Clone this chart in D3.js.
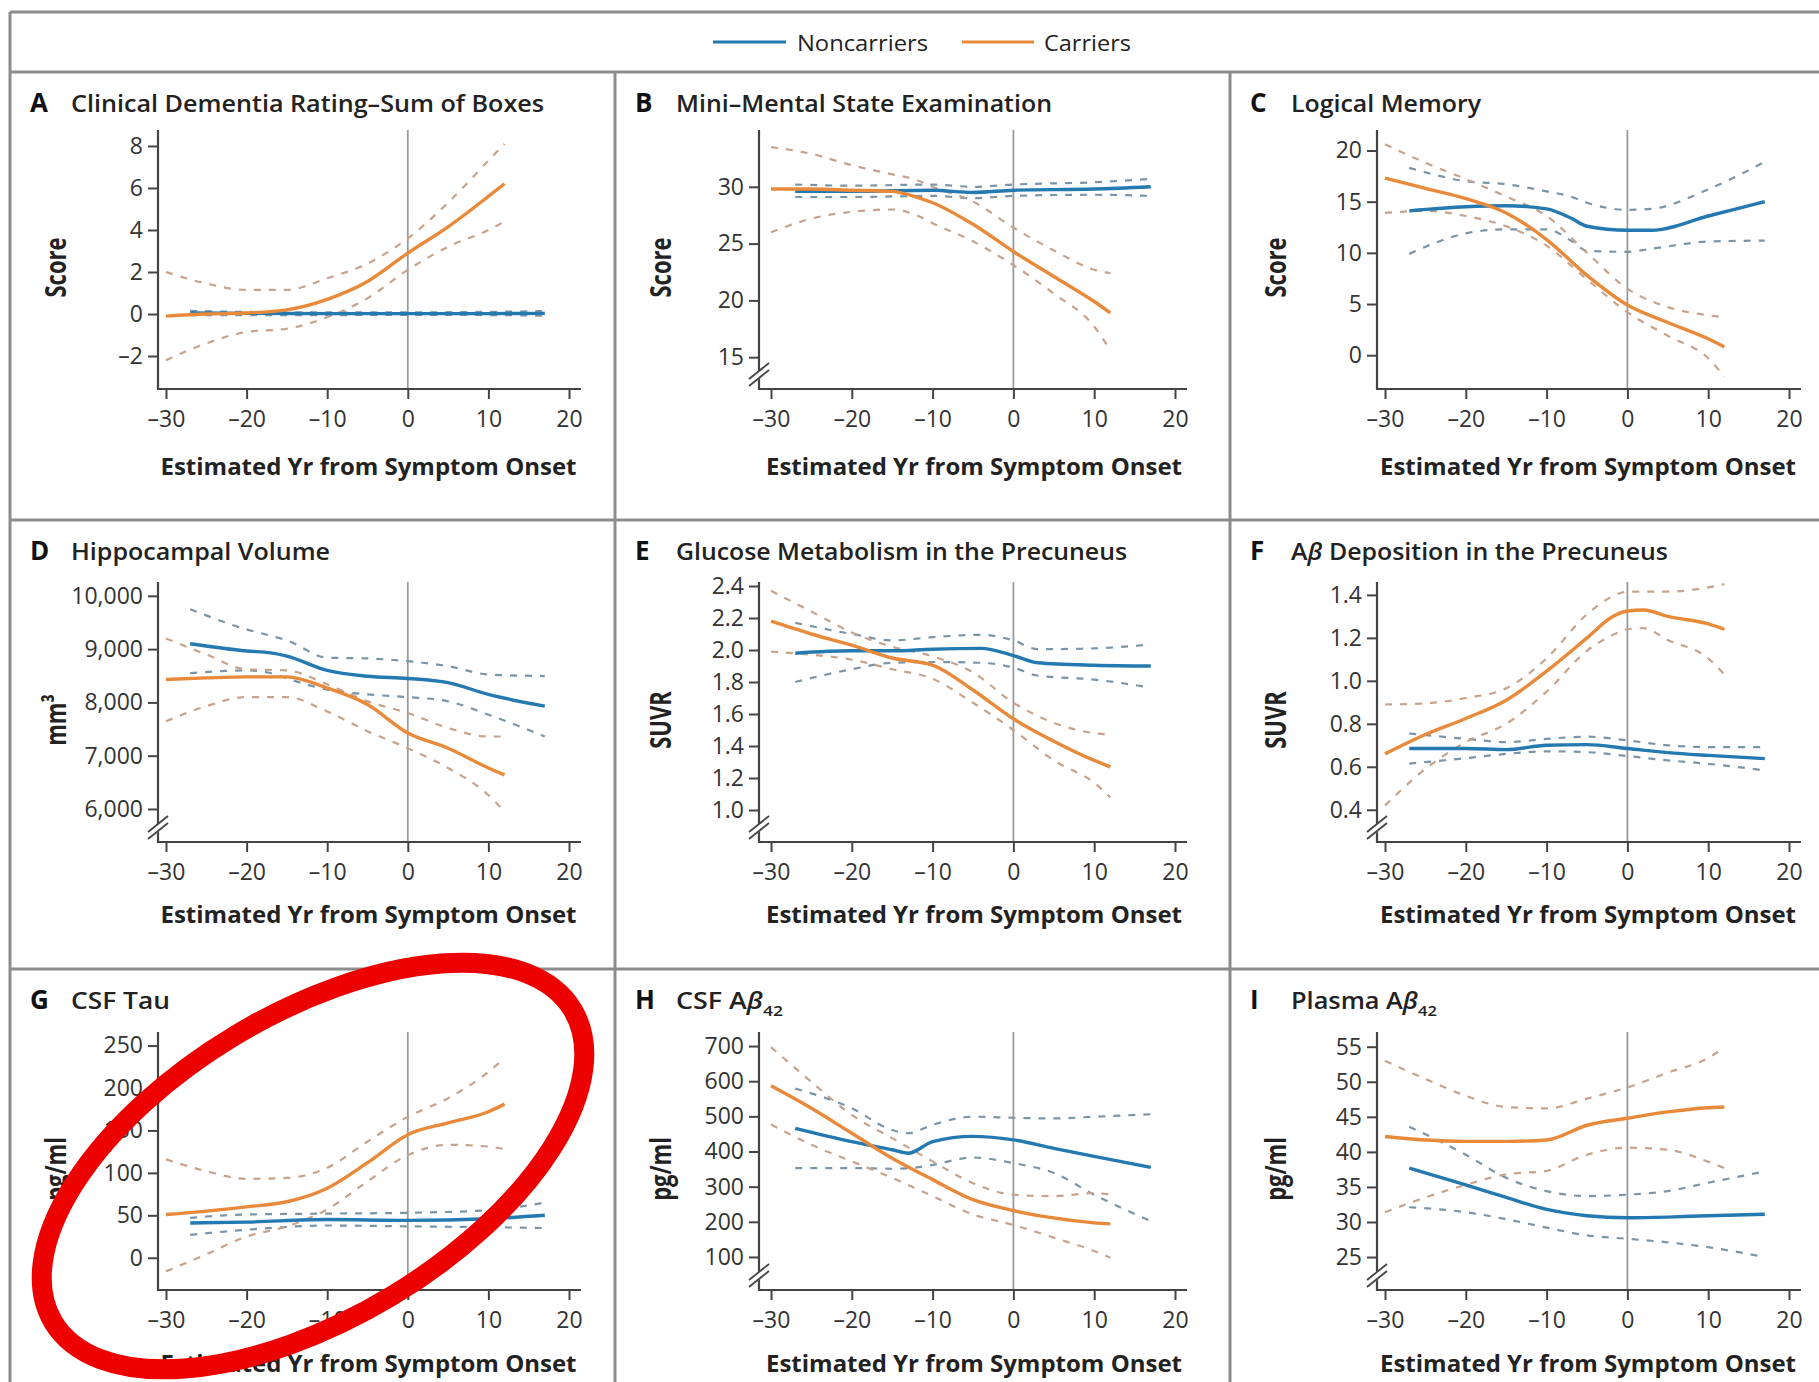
<!DOCTYPE html>
<html>
<head>
<meta charset="utf-8">
<script src="https://cdn.jsdelivr.net/npm/d3@7"></script>
<style>
  body { margin: 0; background: #fff; }
  svg text { font-family: "Open Sans", Lato, sans-serif; }
</style>
</head>
<body>
<svg id="chart"></svg>
<script>
var W = 1819, H = 1382;

// rows are [yr from onset, mean, lower CI, upper CI]
var xTicks = [-30, -20, -10, 0, 10, 20];

var cdrCarriers = [[-30,-0.1,-2.2,2.0],[-25,0.0,-1.4,1.45],[-20,0.05,-0.85,1.15],[-15,0.2,-0.7,1.15],[-10,0.7,-0.15,1.7],[-5,1.55,0.75,2.4],[0,2.9,2.1,3.6],[5,4.15,3.2,5.3],[10,5.6,4.0,7.3],[12,6.2,4.4,8.1]];
var cdrNon = [[-27,0.05,-0.05,0.15],[-20,0.03,-0.05,0.1],[-10,0.02,-0.05,0.08],[0,0.02,-0.04,0.08],[10,0.02,-0.05,0.1],[17,0.03,-0.08,0.14]];

var mmseCarriers = [[-30,29.8,26.0,33.5],[-25,29.8,27.2,32.9],[-20,29.7,27.8,31.9],[-15,29.6,28.0,31.1],[-12,29.1,27.5,30.6],[-10,28.6,26.8,30.0],[-5,26.7,25.2,28.7],[0,24.3,23.1,26.4],[5,22.1,20.6,24.4],[10,19.9,17.7,22.7],[12,18.9,15.6,22.4]];
var mmseNon = [[-27,29.6,29.1,30.2],[-20,29.6,29.1,30.1],[-10,29.7,29.2,30.2],[-5,29.5,29.0,30.0],[0,29.7,29.2,30.2],[10,29.8,29.3,30.4],[17,30.0,29.2,30.7]];

var memCarriers = [[-30,17.3,13.9,20.6],[-25,16.3,14.1,18.8],[-20,15.3,13.6,17.2],[-15,13.9,12.6,15.5],[-10,11.3,10.7,13.6],[-5,7.8,7.4,10.0],[0,4.9,4.2,6.5],[5,3.2,1.9,4.7],[10,1.6,-0.3,3.9],[12,0.8,-2.1,3.7]];
var memNon = [[-27,14.1,9.9,18.3],[-20,14.5,11.9,17.0],[-15,14.6,12.3,16.7],[-10,14.3,12.3,16.0],[-7,13.4,11.2,15.5],[-5,12.6,10.2,14.9],[0,12.2,10.1,14.2],[3,12.2,10.4,14.3],[10,13.6,11.1,16.2],[17,15.0,11.2,18.9]];

var hippoCarriers = [[-30,8430,7645,9200],[-25,8460,7930,8900],[-20,8480,8100,8620],[-15,8480,8100,8600],[-10,8270,7830,8340],[-5,7960,7460,8020],[0,7425,7140,7800],[5,7140,6770,7520],[10,6770,6260,7360],[12,6640,5950,7360]];
var hippoNon = [[-27,9100,8550,9750],[-20,8965,8600,9370],[-17,8930,8550,9250],[-15,8870,8450,9165],[-10,8600,8240,8840],[-5,8490,8150,8825],[0,8450,8100,8775],[5,8370,8020,8680],[10,8150,7770,8525],[17,7930,7360,8495]];

var fdgCarriers = [[-30,2.18,1.99,2.37],[-25,2.10,1.97,2.24],[-20,2.03,1.94,2.11],[-15,1.95,1.88,2.02],[-10,1.905,1.82,1.96],[-5,1.75,1.67,1.86],[0,1.57,1.50,1.67],[5,1.43,1.31,1.545],[10,1.31,1.17,1.48],[12,1.27,1.08,1.47]];
var fdgNon = [[-27,1.98,1.80,2.17],[-20,1.995,1.88,2.10],[-15,1.995,1.92,2.06],[-10,2.005,1.925,2.08],[-4,2.01,1.92,2.095],[0,1.965,1.89,2.06],[3,1.92,1.84,2.005],[10,1.905,1.815,2.01],[17,1.90,1.765,2.035]];

var pibCarriers = [[-30,0.66,0.42,0.89],[-25,0.75,0.59,0.895],[-20,0.825,0.715,0.92],[-15,0.91,0.80,0.965],[-10,1.045,0.95,1.105],[-5,1.20,1.14,1.31],[-2,1.295,1.21,1.39],[0,1.325,1.24,1.415],[2,1.33,1.245,1.415],[5,1.30,1.19,1.415],[10,1.265,1.105,1.435],[12,1.24,1.03,1.45]];
var pibNon = [[-27,0.685,0.615,0.755],[-20,0.685,0.64,0.73],[-15,0.68,0.66,0.715],[-10,0.70,0.672,0.73],[-5,0.703,0.668,0.74],[0,0.685,0.65,0.723],[5,0.666,0.63,0.70],[10,0.653,0.614,0.692],[17,0.638,0.583,0.692]];

var tauCarriers = [[-30,51,-16,116],[-25,55,4,102],[-20,60,25,93],[-15,66,37,94],[-10,82,57,106],[-5,112,90,137],[0,145,121,166],[5,159,133,188],[10,172,131,219],[12,181,128,235]];
var tauNon = [[-27,41,27,47],[-20,42,33,51],[-10,45,38,52],[0,44,37,53],[10,46,36,56],[17,50,35,65]];

var csfAbCarriers = [[-30,587,477,697],[-25,523,419,598],[-20,452,372,504],[-15,381,325,438],[-10,320,273,372],[-5,263,221,310],[0,232,191,277],[5,211,155,273],[10,197,117,282],[12,194,98,277]];
var csfAbNon = [[-27,466,353,579],[-20,428,353,523],[-15,405,351,461],[-13,395,352,452],[-10,428,362,476],[-5,443,383,499],[0,433,367,496],[5,409,339,494],[10,386,277,499],[17,355,202,506]];

var plasmaCarriers = [[-30,42.2,31.4,53.0],[-25,41.7,33.5,50.4],[-20,41.5,35.3,48.0],[-15,41.5,36.8,46.4],[-10,41.7,37.3,46.2],[-5,43.8,39.6,47.6],[0,44.8,40.6,49.2],[5,45.7,40.3,51.3],[10,46.3,38.6,53.4],[12,46.4,37.7,54.9]];
var plasmaNon = [[-27,37.7,32.1,43.6],[-20,35.3,31.4,39.6],[-15,33.5,30.4,36.3],[-10,31.8,29.2,34.4],[-5,30.9,28.1,33.7],[0,30.6,27.6,33.9],[5,30.7,27.1,34.4],[10,30.9,26.4,35.6],[17,31.1,25.0,37.2]];

var letters = ['A','B','C','D','E','F','G','H','I'];
var titles = ['Clinical Dementia Rating\u2013Sum of Boxes', 'Mini\u2013Mental State Examination', 'Logical Memory',
  'Hippocampal Volume', 'Glucose Metabolism in the Precuneus', 'A\u03b2 Deposition in the Precuneus',
  'CSF Tau', 'CSF A\u03b242', 'Plasma A\u03b242'];
var titleWidths = [473, 376, 190, 259, 451, 377, 99, 107, 146];
var yLabels = ['Score','Score','Score','mm\u00b3','SUVR','SUVR','pg/ml','pg/ml','pg/ml'];
var yTicks = [[-2,0,2,4,6,8],[15,20,25,30],[0,5,10,15,20],
  [6000,7000,8000,9000,10000],[1.0,1.2,1.4,1.6,1.8,2.0,2.2,2.4],[0.4,0.6,0.8,1.0,1.2,1.4],
  [0,50,100,150,200,250],[100,200,300,400,500,600,700],[25,30,35,40,45,50,55]];
var yDomains = [[-3.57,8.76],[12.2,35],[-3.3,22],[5380,10260],[0.8,2.425],[0.25,1.46],[-38,266],[6,740],[20.3,57.1]];
var axisBreak = [false,true,false,true,true,true,false,true,true];
var carriers = [cdrCarriers, mmseCarriers, memCarriers, hippoCarriers, fdgCarriers, pibCarriers, tauCarriers, csfAbCarriers, plasmaCarriers];
var noncarriers = [cdrNon, mmseNon, memNon, hippoNon, fdgNon, pibNon, tauNon, csfAbNon, plasmaNon];

var blue = '#2479b0', orange = '#e9893a';
var blueCI = '#7b95a6', orangeCI = '#c6a38c';
var frame = '#8c8c8c';

// layout
var colLeft = [10, 615, 1230], colAxis = [158, 759, 1377];
var colX0 = [166, 771, 1385], colX1 = [569, 1175, 1789];
var rowTop = [72, 520, 969], rowPlotTop = [130, 582, 1032], rowAxis = [389, 842, 1290];

var svg = d3.select('#chart').attr('width', W).attr('height', H);
svg.append('rect').attr('width', W).attr('height', H).attr('fill', '#fff');

// frame and dividers
var fr = svg.append('g').attr('stroke', frame).attr('stroke-width', 3);
fr.append('line').attr('x1', 10).attr('x2', W).attr('y1', 12).attr('y2', 12);
fr.append('line').attr('x1', 10).attr('x2', 10).attr('y1', 12).attr('y2', H);
rowTop.forEach(function(t){
  fr.append('line').attr('x1', 10).attr('x2', W).attr('y1', t).attr('y2', t);
});
[615, 1230].forEach(function(cx){
  fr.append('line').attr('x1', cx).attr('x2', cx).attr('y1', 72).attr('y2', H);
});

// legend
var leg = svg.append('g');
[[713, 786, blue, 'Noncarriers', 797, 131], [962, 1034, orange, 'Carriers', 1044, 87]].forEach(function(l){
  leg.append('line').attr('x1', l[0]).attr('x2', l[1]).attr('y1', 42).attr('y2', 42)
    .attr('stroke', l[2]).attr('stroke-width', 3);
  leg.append('text').attr('x', l[4]).attr('y', 51).attr('font-size', 22).attr('fill', '#222')
    .attr('textLength', l[5]).attr('lengthAdjust', 'spacingAndGlyphs').text(l[3]);
});

function tickFmt(i){
  if (i === 3) return d3.format(',');
  if (i === 4 || i === 5) return d3.format('.1f');
  return function(v){ return v < 0 ? '\u2013' + Math.abs(v) : String(v); };
}

letters.forEach(function(letter, i){
  var c = i % 3, r = Math.floor(i / 3);
  var g = svg.append('g').attr('class', 'panel');
  var x = d3.scaleLinear().domain([-30, 20]).range([colX0[c], colX1[c]]);
  var y = d3.scaleLinear().domain(yDomains[i]).range([rowAxis[r], rowPlotTop[r]]);
  var ax = colAxis[c], top = rowPlotTop[r], bot = rowAxis[r];

  // panel letter and title
  g.append('text').attr('x', colLeft[c] + 20).attr('y', rowTop[r] + 40)
    .attr('font-size', 26).attr('font-weight', 700).attr('fill', '#111').text(letter);
  var tt = g.append('text').attr('x', colLeft[c] + 61).attr('y', rowTop[r] + 40)
    .attr('font-size', 23).attr('font-weight', 600).attr('fill', '#222')
    .attr('textLength', titleWidths[i]).attr('lengthAdjust', 'spacingAndGlyphs');
  var title = titles[i], k = title.indexOf('\u03b2');
  if (k < 0) {
    tt.text(title);
  } else {
    tt.append('tspan').text(title.slice(0, k));
    tt.append('tspan').attr('font-style', 'italic').text('\u03b2');
    if (/\u03b242$/.test(title)) {
      tt.append('tspan').attr('font-size', 15).attr('dy', 7).text('42');
    } else {
      tt.append('tspan').text(title.slice(k + 1));
    }
  }

  // zero line
  g.append('line').attr('x1', x(0)).attr('x2', x(0)).attr('y1', top).attr('y2', bot)
    .attr('stroke', '#9a9a9a').attr('stroke-width', 1.8);

  // y axis
  var yAxis = d3.axisLeft(y).tickValues(yTicks[i]).tickSize(10).tickPadding(5).tickFormat(tickFmt(i));
  var yg = g.append('g').attr('transform', 'translate(' + ax + ',0)').call(yAxis);
  yg.select('.domain').remove();
  yg.selectAll('.tick line').attr('stroke', '#444').attr('stroke-width', 2);
  yg.selectAll('.tick text').attr('font-size', 23).attr('fill', '#333').attr('font-family', '"Open Sans", sans-serif');

  // x axis
  var xAxis = d3.axisBottom(x).tickValues(xTicks).tickSize(10).tickPadding(12).tickFormat(tickFmt(0));
  var xg = g.append('g').attr('transform', 'translate(0,' + bot + ')').call(xAxis);
  xg.select('.domain').remove();
  xg.selectAll('.tick line').attr('stroke', '#444').attr('stroke-width', 2);
  xg.selectAll('.tick text').attr('font-size', 23).attr('fill', '#333').attr('font-family', '"Open Sans", sans-serif');

  g.append('line').attr('x1', ax).attr('x2', ax).attr('y1', top).attr('y2', bot + 1)
    .attr('stroke', '#444').attr('stroke-width', 2.2);
  g.append('line').attr('x1', ax - 1).attr('x2', x(20) + 12).attr('y1', bot).attr('y2', bot)
    .attr('stroke', '#444').attr('stroke-width', 2.2);

  if (axisBreak[i]) {
    var by = bot - 14;
    g.append('polygon')
      .attr('points', [[ax - 5, by + 8], [ax + 5, by], [ax + 5, by - 8], [ax - 5, by]].join(' '))
      .attr('fill', '#fff');
    [-4, 3].forEach(function(o){
      g.append('line').attr('x1', ax - 10).attr('y1', by + o + 8).attr('x2', ax + 10).attr('y2', by + o - 8)
        .attr('stroke', '#444').attr('stroke-width', 1.8);
    });
  }

  // axis titles
  g.append('text').attr('x', (x(-30) + x(20)) / 2 + 1).attr('y', rowTop[r] + 403)
    .attr('text-anchor', 'middle').attr('font-size', 23).attr('font-weight', 700).attr('fill', '#222')
    .attr('textLength', 416).attr('lengthAdjust', 'spacingAndGlyphs')
    .text('Estimated Yr from Symptom Onset');
  g.append('text')
    .attr('transform', 'translate(' + (colLeft[c] + 56) + ',' + ((top + bot) / 2 + 8) + ') scale(1.3,1) rotate(-90)')
    .attr('text-anchor', 'middle').attr('font-size', 22).attr('font-weight', 700).attr('fill', '#222')
    .text(yLabels[i]);

  // curves
  function lineOf(k){
    return d3.line().x(function(d){ return x(d[0]); }).y(function(d){ return y(d[k]); }).curve(d3.curveMonotoneX);
  }
  [[noncarriers[i], blueCI], [carriers[i], orangeCI]].forEach(function(s){
    [2, 3].forEach(function(k){
      g.append('path').datum(s[0]).attr('d', lineOf(k)).attr('fill', 'none')
        .attr('stroke', s[1]).attr('stroke-width', 2.2).attr('stroke-dasharray', '7,8');
    });
  });
  [[noncarriers[i], blue], [carriers[i], orange]].forEach(function(s){
    g.append('path').datum(s[0]).attr('d', lineOf(1)).attr('fill', 'none')
      .attr('stroke', s[1]).attr('stroke-width', 3.4).attr('stroke-linejoin', 'round');
  });
});

// red annotation ring around panel G
svg.append('ellipse').attr('cx', 313).attr('cy', 1166).attr('rx', 303).attr('ry', 152)
  .attr('transform', 'rotate(-31 313 1166)')
  .attr('fill', 'none').attr('stroke', '#ec0000').attr('stroke-width', 20);
</script>
</body>
</html>
